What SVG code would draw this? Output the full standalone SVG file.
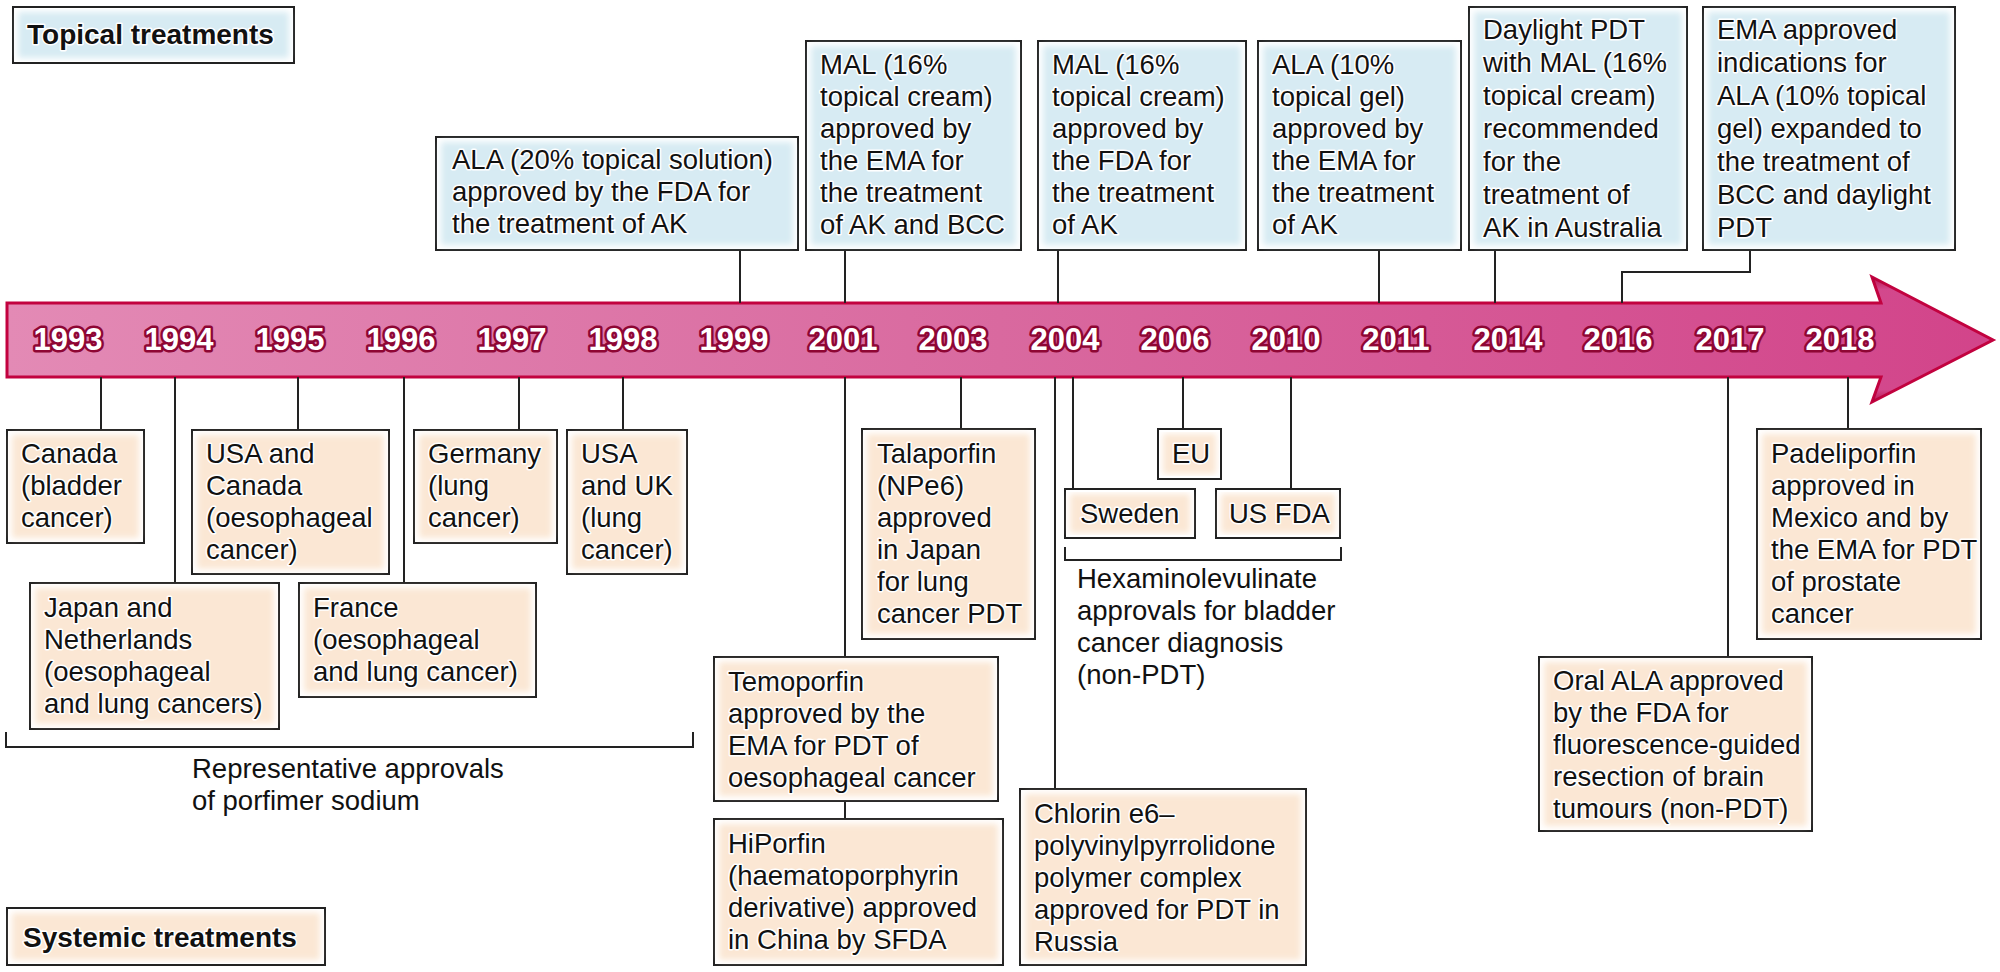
<svg xmlns="http://www.w3.org/2000/svg" width="2000" height="972" viewBox="0 0 2000 972">
<defs>
<linearGradient id="bandH" x1="0" y1="0" x2="1" y2="0">
<stop offset="0" stop-color="#e38ab5"/>
<stop offset="0.5" stop-color="#d9699f"/>
<stop offset="1" stop-color="#d2448a"/>
</linearGradient>
<linearGradient id="bandV" x1="0" y1="0" x2="0" y2="1">
<stop offset="0" stop-color="#b0003a" stop-opacity="0.75"/>
<stop offset="0.1" stop-color="#b0003a" stop-opacity="0"/>
<stop offset="0.9" stop-color="#b0003a" stop-opacity="0"/>
<stop offset="1" stop-color="#b0003a" stop-opacity="0.75"/>
</linearGradient>
<filter id="soft" x="-5%" y="-5%" width="110%" height="110%">
<feGaussianBlur stdDeviation="3"/>
</filter>
<style>
.txt{font-family:"Liberation Sans",Arial,sans-serif;font-size:27.5px;fill:#111;stroke:#fff;stroke-width:3;stroke-linejoin:round;paint-order:stroke}
.hd{font-family:"Liberation Sans",Arial,sans-serif;font-size:28px;font-weight:bold;fill:#111;stroke:#fff;stroke-width:3;stroke-linejoin:round;paint-order:stroke}
.yr{font-family:"Liberation Sans",Arial,sans-serif;font-size:31px;font-weight:bold;fill:#fff;stroke:#8e0634;stroke-width:5;stroke-linejoin:round;paint-order:stroke;text-anchor:middle}
.frame{fill:#fff;stroke:#222;stroke-width:2}
.blue{fill:#d7ebf3;filter:url(#soft)}
.peach{fill:#fbe7d4;filter:url(#soft)}
.ln{fill:none;stroke:#222;stroke-width:2}
</style>
</defs>
<rect width="2000" height="972" fill="#fff"/>

<g id="timeline">
<path d="M7,303 H1881 L1872,277 L1993,340 L1872,402 L1881,377 H7 Z" fill="url(#bandH)" stroke="#c2023f" stroke-width="3"/>
<path d="M7,303 H1881 L1872,277 L1993,340 L1872,402 L1881,377 H7 Z" fill="url(#bandV)"/>
<text class="yr" x="68" y="350">1993</text>
<text class="yr" x="179" y="350">1994</text>
<text class="yr" x="290" y="350">1995</text>
<text class="yr" x="401" y="350">1996</text>
<text class="yr" x="512" y="350">1997</text>
<text class="yr" x="623" y="350">1998</text>
<text class="yr" x="734" y="350">1999</text>
<text class="yr" x="843" y="350">2001</text>
<text class="yr" x="953" y="350">2003</text>
<text class="yr" x="1065" y="350">2004</text>
<text class="yr" x="1175" y="350">2006</text>
<text class="yr" x="1286" y="350">2010</text>
<text class="yr" x="1396" y="350">2011</text>
<text class="yr" x="1508" y="350">2014</text>
<text class="yr" x="1618" y="350">2016</text>
<text class="yr" x="1730" y="350">2017</text>
<text class="yr" x="1840" y="350">2018</text>
</g>

<g id="connectors">
<path class="ln" d="M740,250 V303"/>
<path class="ln" d="M845,250 V303"/>
<path class="ln" d="M1058,250 V303"/>
<path class="ln" d="M1379,250 V303"/>
<path class="ln" d="M1495,250 V303"/>
<path class="ln" d="M1750,250 V272 H1622 V303"/>
<path class="ln" d="M101,377 V430"/>
<path class="ln" d="M175,377 V583"/>
<path class="ln" d="M298,377 V430"/>
<path class="ln" d="M404,377 V583"/>
<path class="ln" d="M519,377 V430"/>
<path class="ln" d="M623,377 V430"/>
<path class="ln" d="M845,377 V657"/>
<path class="ln" d="M845,801 V819"/>
<path class="ln" d="M961,377 V429"/>
<path class="ln" d="M1055,377 V789"/>
<path class="ln" d="M1073,377 V489"/>
<path class="ln" d="M1183,377 V429"/>
<path class="ln" d="M1291,377 V489"/>
<path class="ln" d="M1728,377 V657"/>
<path class="ln" d="M1848,377 V429"/>
<path class="ln" d="M6,732 V747 H693 V732"/>
<path class="ln" d="M1065,547 V560 H1341 V547"/>
</g>

<g id="topical-label">
<rect class="frame" x="13" y="7" width="281" height="56"/>
<rect class="blue" x="18" y="12" width="271" height="46"/>
<text class="hd" x="27" y="44">Topical treatments</text>
</g>

<g id="t1999">
<rect class="frame" x="436" y="137" width="362" height="113"/>
<rect class="blue" x="441" y="142" width="352" height="103"/>
<text class="txt" x="452"><tspan x="452" y="169">ALA (20% topical solution)</tspan><tspan x="452" y="201">approved by the FDA for</tspan><tspan x="452" y="233">the treatment of AK</tspan></text>
</g>

<g id="t2001">
<rect class="frame" x="806" y="41" width="215" height="209"/>
<rect class="blue" x="811" y="46" width="205" height="199"/>
<text class="txt"><tspan x="820" y="74">MAL (16%</tspan><tspan x="820" y="106">topical cream)</tspan><tspan x="820" y="138">approved by</tspan><tspan x="820" y="170">the EMA for</tspan><tspan x="820" y="202">the treatment</tspan><tspan x="820" y="234">of AK and BCC</tspan></text>
</g>

<g id="t2004">
<rect class="frame" x="1038" y="41" width="208" height="209"/>
<rect class="blue" x="1043" y="46" width="198" height="199"/>
<text class="txt"><tspan x="1052" y="74">MAL (16%</tspan><tspan x="1052" y="106">topical cream)</tspan><tspan x="1052" y="138">approved by</tspan><tspan x="1052" y="170">the FDA for</tspan><tspan x="1052" y="202">the treatment</tspan><tspan x="1052" y="234">of AK</tspan></text>
</g>

<g id="t2011">
<rect class="frame" x="1258" y="41" width="203" height="209"/>
<rect class="blue" x="1263" y="46" width="193" height="199"/>
<text class="txt"><tspan x="1272" y="74">ALA (10%</tspan><tspan x="1272" y="106">topical gel)</tspan><tspan x="1272" y="138">approved by</tspan><tspan x="1272" y="170">the EMA for</tspan><tspan x="1272" y="202">the treatment</tspan><tspan x="1272" y="234">of AK</tspan></text>
</g>

<g id="t2014">
<rect class="frame" x="1469" y="7" width="218" height="243"/>
<rect class="blue" x="1474" y="12" width="208" height="233"/>
<text class="txt"><tspan x="1483" y="39">Daylight PDT</tspan><tspan x="1483" y="72">with MAL (16%</tspan><tspan x="1483" y="105">topical cream)</tspan><tspan x="1483" y="138">recommended</tspan><tspan x="1483" y="171">for the</tspan><tspan x="1483" y="204">treatment of</tspan><tspan x="1483" y="237">AK in Australia</tspan></text>
</g>

<g id="t2016">
<rect class="frame" x="1703" y="7" width="252" height="243"/>
<rect class="blue" x="1708" y="12" width="242" height="233"/>
<text class="txt"><tspan x="1717" y="39">EMA approved</tspan><tspan x="1717" y="72">indications for</tspan><tspan x="1717" y="105">ALA (10% topical</tspan><tspan x="1717" y="138">gel) expanded to</tspan><tspan x="1717" y="171">the treatment of</tspan><tspan x="1717" y="204">BCC and daylight</tspan><tspan x="1717" y="237">PDT</tspan></text>
</g>

<g id="s1993">
<rect class="frame" x="7" y="430" width="137" height="113"/>
<rect class="peach" x="12" y="435" width="127" height="103"/>
<text class="txt"><tspan x="21" y="463">Canada</tspan><tspan x="21" y="495">(bladder</tspan><tspan x="21" y="527">cancer)</tspan></text>
</g>

<g id="s1994">
<rect class="frame" x="30" y="583" width="249" height="146"/>
<rect class="peach" x="35" y="588" width="239" height="136"/>
<text class="txt"><tspan x="44" y="617">Japan and</tspan><tspan x="44" y="649">Netherlands</tspan><tspan x="44" y="681">(oesophageal</tspan><tspan x="44" y="713">and lung cancers)</tspan></text>
</g>

<g id="s1995">
<rect class="frame" x="192" y="430" width="197" height="144"/>
<rect class="peach" x="197" y="435" width="187" height="134"/>
<text class="txt"><tspan x="206" y="463">USA and</tspan><tspan x="206" y="495">Canada</tspan><tspan x="206" y="527">(oesophageal</tspan><tspan x="206" y="559">cancer)</tspan></text>
</g>

<g id="s1996">
<rect class="frame" x="299" y="583" width="237" height="114"/>
<rect class="peach" x="304" y="588" width="227" height="104"/>
<text class="txt"><tspan x="313" y="617">France</tspan><tspan x="313" y="649">(oesophageal</tspan><tspan x="313" y="681">and lung cancer)</tspan></text>
</g>

<g id="s1997">
<rect class="frame" x="414" y="430" width="143" height="113"/>
<rect class="peach" x="419" y="435" width="133" height="103"/>
<text class="txt"><tspan x="428" y="463">Germany</tspan><tspan x="428" y="495">(lung</tspan><tspan x="428" y="527">cancer)</tspan></text>
</g>

<g id="s1998">
<rect class="frame" x="567" y="430" width="120" height="144"/>
<rect class="peach" x="572" y="435" width="110" height="134"/>
<text class="txt"><tspan x="581" y="463">USA</tspan><tspan x="581" y="495">and UK</tspan><tspan x="581" y="527">(lung</tspan><tspan x="581" y="559">cancer)</tspan></text>
</g>

<g id="porfimer-label">
<text class="txt"><tspan x="192" y="778">Representative approvals</tspan><tspan x="192" y="810">of porfimer sodium</tspan></text>
</g>

<g id="s2001a">
<rect class="frame" x="714" y="657" width="284" height="144"/>
<rect class="peach" x="719" y="662" width="274" height="134"/>
<text class="txt"><tspan x="728" y="691">Temoporfin</tspan><tspan x="728" y="723">approved by the</tspan><tspan x="728" y="755">EMA for PDT of</tspan><tspan x="728" y="787">oesophageal cancer</tspan></text>
</g>

<g id="s2001b">
<rect class="frame" x="714" y="819" width="289" height="146"/>
<rect class="peach" x="719" y="824" width="279" height="136"/>
<text class="txt"><tspan x="728" y="853">HiPorfin</tspan><tspan x="728" y="885">(haematoporphyrin</tspan><tspan x="728" y="917">derivative) approved</tspan><tspan x="728" y="949">in China by SFDA</tspan></text>
</g>

<g id="s2003">
<rect class="frame" x="862" y="429" width="173" height="210"/>
<rect class="peach" x="867" y="434" width="163" height="200"/>
<text class="txt"><tspan x="877" y="463">Talaporfin</tspan><tspan x="877" y="495">(NPe6)</tspan><tspan x="877" y="527">approved</tspan><tspan x="877" y="559">in Japan</tspan><tspan x="877" y="591">for lung</tspan><tspan x="877" y="623">cancer PDT</tspan></text>
</g>

<g id="s2004a">
<rect class="frame" x="1065" y="489" width="130" height="49"/>
<rect class="peach" x="1070" y="494" width="120" height="39"/>
<text class="txt" x="1080" y="523">Sweden</text>
</g>

<g id="s2006">
<rect class="frame" x="1158" y="429" width="63" height="50"/>
<rect class="peach" x="1163" y="434" width="53" height="40"/>
<text class="txt" x="1172" y="463">EU</text>
</g>

<g id="s2010">
<rect class="frame" x="1216" y="489" width="124" height="49"/>
<rect class="peach" x="1221" y="494" width="114" height="39"/>
<text class="txt" x="1229" y="523">US FDA</text>
</g>

<g id="hexaminolevulinate-label">
<text class="txt"><tspan x="1077" y="588">Hexaminolevulinate</tspan><tspan x="1077" y="620">approvals for bladder</tspan><tspan x="1077" y="652">cancer diagnosis</tspan><tspan x="1077" y="684">(non-PDT)</tspan></text>
</g>

<g id="s2004b">
<rect class="frame" x="1020" y="789" width="286" height="176"/>
<rect class="peach" x="1025" y="794" width="276" height="166"/>
<text class="txt"><tspan x="1034" y="823">Chlorin e6–</tspan><tspan x="1034" y="855">polyvinylpyrrolidone</tspan><tspan x="1034" y="887">polymer complex</tspan><tspan x="1034" y="919">approved for PDT in</tspan><tspan x="1034" y="951">Russia</tspan></text>
</g>

<g id="s2017">
<rect class="frame" x="1539" y="657" width="273" height="174"/>
<rect class="peach" x="1544" y="662" width="263" height="164"/>
<text class="txt"><tspan x="1553" y="690">Oral ALA approved</tspan><tspan x="1553" y="722">by the FDA for</tspan><tspan x="1553" y="754">fluorescence-guided</tspan><tspan x="1553" y="786">resection of brain</tspan><tspan x="1553" y="818">tumours (non-PDT)</tspan></text>
</g>

<g id="s2018">
<rect class="frame" x="1757" y="429" width="224" height="210"/>
<rect class="peach" x="1762" y="434" width="214" height="200"/>
<text class="txt"><tspan x="1771" y="463">Padeliporfin</tspan><tspan x="1771" y="495">approved in</tspan><tspan x="1771" y="527">Mexico and by</tspan><tspan x="1771" y="559">the EMA for PDT</tspan><tspan x="1771" y="591">of prostate</tspan><tspan x="1771" y="623">cancer</tspan></text>
</g>

<g id="systemic-label">
<rect class="frame" x="7" y="908" width="318" height="57"/>
<rect class="peach" x="12" y="913" width="308" height="47"/>
<text class="hd" x="23" y="947">Systemic treatments</text>
</g>
</svg>
